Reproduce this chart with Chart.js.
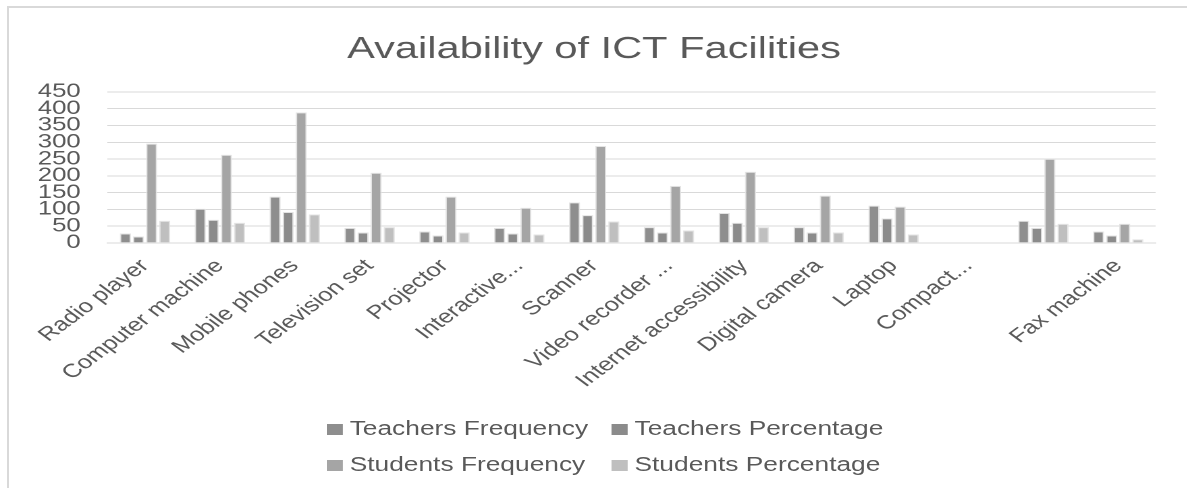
<!DOCTYPE html>
<html>
<head>
<meta charset="utf-8">
<title>Availability of ICT Facilities</title>
<script src="https://cdn.jsdelivr.net/npm/chart.js@4.4.0/dist/chart.umd.min.js"></script>
<style>
  html, body { margin: 0; padding: 0; background: #fff; overflow: hidden; width: 1187px; height: 488px; }
  #frame { position: absolute; left: 7px; top: 6px; width: 1200px; height: 500px; border: 2px solid #d9d9d9; box-sizing: border-box; }
  /* the reference is a horizontally stretched screenshot, so the whole chart is drawn narrow and scaled up */
  #wrap { position: absolute; left: 0; top: 0; width: 879px; height: 488px; transform: scaleX(1.35); transform-origin: 0 0; }
  #chart { position: absolute; left: 0; top: 0; }
  .item { position: absolute; font: 19.5px "Liberation Sans", Arial, sans-serif; color: #595959; white-space: nowrap; line-height: 24px; }
  .item span { display: inline-block; width: 12.5px; height: 11px; margin-right: 5px; vertical-align: 0px; }
</style>
</head>
<body>
<div id="frame"></div>
<div id="wrap">
  <canvas id="chart" width="879" height="488"></canvas>
  <div id="legend"></div>
</div>
<script>
var categories = ['Radio player', 'Computer machine', 'Mobile phones', 'Television set', 'Projector',
    'Interactive...', 'Scanner', 'Video recorder ...', 'Internet accessibility', 'Digital camera',
    'Laptop', 'Compact...', '', 'Fax machine'];
var teachersFrequency = [28, 102, 138, 45, 34, 45, 121, 47, 89, 47, 111, null, 66, 34];
var teachersPercentage = [19, 69, 92, 31, 22, 28, 83, 31, 60, 31, 73, null, 45, 22];
var studentsFrequency = [296, 263, 389, 209, 138, 105, 289, 170, 212, 141, 108, null, 251, 57];
var studentsPercentage = [66, 60, 85, 47, 31, 25, 64, 37, 47, 31, 25, null, 57, 11];
var yTicks = [0, 50, 100, 150, 200, 250, 300, 350, 400, 450];

var textColor = '#595959';
var gridColor = '#d9d9d9';
var fontFamily = '"Liberation Sans", Arial, sans-serif';

var datasets = [
    { label: 'Teachers Frequency', data: teachersFrequency, backgroundColor: '#8e8e8e' },
    { label: 'Teachers Percentage', data: teachersPercentage, backgroundColor: '#8b8b8b' },
    { label: 'Students Frequency', data: studentsFrequency, backgroundColor: '#a5a5a5' },
    { label: 'Students Percentage', data: studentsPercentage, backgroundColor: '#bfbfbf' }
];
datasets.forEach(function (ds) {
    ds.borderColor = 'rgba(225,225,225,0.9)';
    ds.borderWidth = 1;
    ds.categoryPercentage = 0.7;
    ds.barPercentage = 0.85;
});

// Excel centres the title on the whole frame, not on the padded area
var titleShift = {
    id: 'titleShift',
    afterLayout: function (chart) {
        if (chart.titleBlock) {
            chart.titleBlock.left += 8;
            chart.titleBlock.right += 8;
        }
    }
};

var chart = new Chart(document.getElementById('chart').getContext('2d'), {
    type: 'bar',
    data: { labels: categories, datasets: datasets },
    plugins: [titleShift],
    options: {
        responsive: false,
        animation: false,
        devicePixelRatio: 2,
        // y axis reserves its tick padding twice, so the left padding is small
        layout: { padding: { left: 8, right: 23, top: 10, bottom: 92 } },
        plugins: {
            legend: { display: false },
            tooltip: { enabled: false },
            title: {
                display: true,
                text: 'Availability of ICT Facilities',
                color: textColor,
                font: { family: fontFamily, size: 30.8, weight: 'normal' },
                padding: { top: 21, bottom: 24 }
            }
        },
        scales: {
            x: {
                grid: { display: false },
                border: { color: gridColor, width: 1 },
                // rotated labels may hang left of the plot, like in Excel
                afterFit: function (scale) {
                    scale.paddingLeft = 0;
                    scale.paddingRight = 0;
                },
                ticks: {
                    color: textColor,
                    autoSkip: false,
                    minRotation: 45,
                    maxRotation: 45,
                    padding: 4,
                    font: { family: fontFamily, size: 19 }
                }
            },
            y: {
                min: yTicks[0],
                max: yTicks[yTicks.length - 1],
                afterBuildTicks: function (axis) {
                    axis.ticks = yTicks.map(function (v) { return { value: v }; });
                },
                grid: { color: gridColor, lineWidth: 1, drawTicks: false },
                border: { display: false },
                ticks: {
                    color: textColor,
                    autoSkip: false,
                    padding: 20,
                    font: { family: fontFamily, size: 19 }
                }
            }
        }
    }
});

// two-column legend like the Excel original
var legendCols = [241.5, 452.5];
var legendRows = [427.5, 463.5];
var legend = document.getElementById('legend');
chart.data.datasets.forEach(function (ds, i) {
    var el = document.createElement('div');
    el.className = 'item';
    el.style.left = legendCols[i % 2] + 'px';
    el.style.top = (legendRows[Math.floor(i / 2)] - 12) + 'px';
    el.innerHTML = '<span style="background:' + ds.backgroundColor + '"></span>' + ds.label;
    legend.appendChild(el);
});
</script>
</body>
</html>
